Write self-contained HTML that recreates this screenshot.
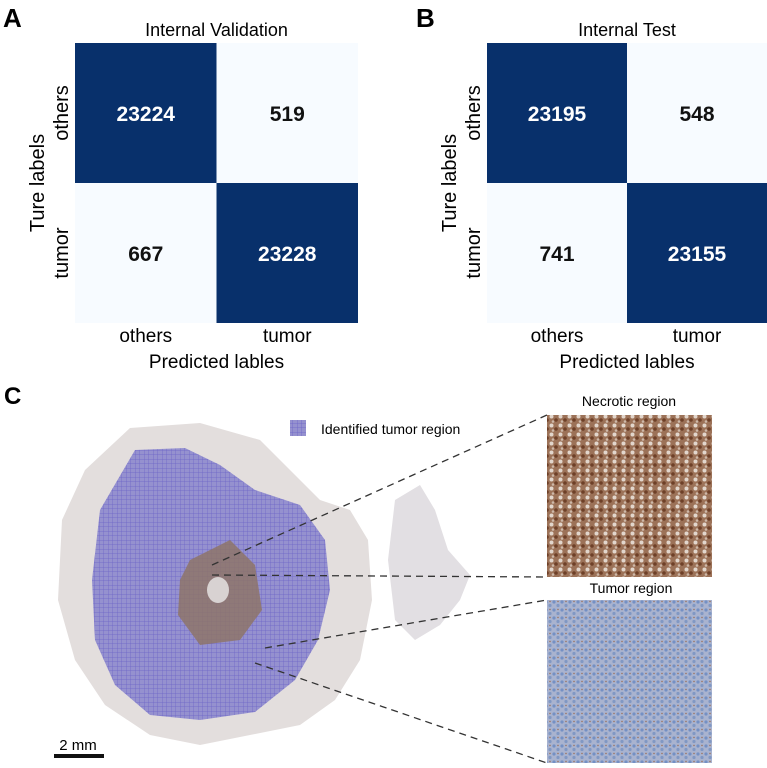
<!DOCTYPE html>
<html><head><meta charset="utf-8"><style>
body{margin:0;background:#fff;width:767px;height:768px;overflow:hidden;font-family:"Liberation Sans",sans-serif}
svg{position:absolute;left:0;top:0}
</style></head><body>
<svg width="767" height="768" font-family="Liberation Sans, sans-serif">
<defs>
<pattern id="grid" width="4.5" height="4.5" patternUnits="userSpaceOnUse"><rect width="4.5" height="4.5" fill="#9591cf"/><path d="M0 0H4.5M0 0V4.5" stroke="#6a62c8" stroke-width="0.7"/></pattern>
<pattern id="nec" width="9" height="9" patternUnits="userSpaceOnUse"><rect width="9" height="9" fill="#9c7258"/><circle cx="2.5" cy="2.5" r="2" fill="#e2d6cc"/><circle cx="7" cy="6" r="1.8" fill="#6e4028"/><circle cx="4" cy="7.5" r="1.3" fill="#cdb8a8"/></pattern>
<pattern id="tum" width="8" height="8" patternUnits="userSpaceOnUse"><rect width="8" height="8" fill="#a9b3cf"/><circle cx="2" cy="2" r="1.6" fill="#7490c4"/><circle cx="6" cy="5.5" r="1.6" fill="#8098c4"/><circle cx="6" cy="1.5" r="0.7" fill="#9a6a4e"/></pattern>
</defs>
<g id="charts"></g>
<g>
<text x="4" y="404" font-size="24" font-weight="bold">C</text>
<path d="M130 428 L200 423 L260 440 L295 475 L320 500 L350 510 L368 540 L372 600 L360 660 L335 700 L300 725 L250 735 L200 745 L150 735 L105 705 L75 660 L58 600 L62 520 L85 470 Z" fill="#e3dedd"/>
<path d="M395 500 L420 485 L435 510 L448 550 L470 575 L460 600 L440 625 L415 640 L395 620 L388 560 Z" fill="#e2dfe3"/>
<path d="M135 450 L185 448 L220 465 L255 490 L300 505 L325 540 L330 590 L318 640 L295 680 L255 712 L200 720 L150 715 L115 685 L95 640 L92 580 L100 510 Z" fill="url(#grid)"/>
<path d="M190 560 L230 540 L255 565 L262 610 L240 640 L200 645 L178 615 L180 580 Z" fill="#8e7468" opacity="0.85"/>
<ellipse cx="218" cy="590" rx="11" ry="13" fill="#d8d2d2"/>
<g>
<rect x="290" y="420" width="16" height="16" fill="url(#grid)"/>
<text x="321" y="434" font-size="14">Identified tumor region</text>
</g>
<text x="629" y="406" font-size="14" text-anchor="middle">Necrotic region</text>
<rect x="547" y="415" width="165" height="162" fill="url(#nec)"/>
<text x="631" y="593" font-size="14" text-anchor="middle">Tumor region</text>
<rect x="547" y="600" width="165" height="163" fill="url(#tum)"/>
<g stroke="#333" stroke-width="1.3" stroke-dasharray="7,5" fill="none">
<line x1="212" y1="565" x2="547" y2="415"/><line x1="212" y1="575" x2="547" y2="577"/>
<line x1="265" y1="648" x2="547" y2="600"/><line x1="255" y1="663" x2="547" y2="763"/>
</g>
<text x="78" y="750" font-size="15" text-anchor="middle">2 mm</text>
<rect x="54" y="754" width="50" height="4" fill="#111"/>
</g>
</svg>
<script>
const classes=["others","tumor"];
const valA=[[23224,519],[667,23228]];
const valB=[[23195,548],[741,23155]];
const titles=["Internal Validation","Internal Test"];
const NS="http://www.w3.org/2000/svg";
const g=document.getElementById('charts');
function mk(t,a,p){const e=document.createElementNS(NS,t);for(const k in a)e.setAttribute(k,a[k]);(p||g).appendChild(e);return e;}
function panel(vals,x0,x1,title,lab,lx){
 const y0=43,y1=323,cw=(x1-x0)/2,ch=(y1-y0)/2;
 const max=Math.max(...vals.flat()),min=Math.min(...vals.flat());
 const pg=mk('g',{});
 
 
 const L=mk('text',{x:lx,y:27,'font-size':26,'font-weight':'bold'},pg);L.textContent=lab;
 
 const T=mk('text',{x:(x0+x1)/2,y:36,'font-size':18,'text-anchor':'middle'},pg);T.textContent=title;
 
 for(let r=0;r<2;r++)for(let c=0;c<2;c++){
  const v=vals[r][c],hi=(v-min)/(max-min)>0.5;
  const R=mk('rect',{x:x0+c*cw,y:y0+r*ch,width:cw,height:ch,fill:hi?'#08306b':'#f7fbff'},pg);
  
  const t=mk('text',{x:x0+c*cw+cw/2,y:y0+r*ch+ch/2+8,'font-size':21,'font-weight':'bold','text-anchor':'middle',fill:hi?'#fff':'#111'},pg);t.textContent=v;
  
 }
 classes.forEach((c,i)=>{
  const t=mk('text',{x:x0+i*cw+cw/2,y:342,'font-size':19,'text-anchor':'middle'},pg);t.textContent=c;
  
  const yc=y0+i*ch+ch/2;
  const u=mk('text',{x:0,y:0,'font-size':20,'text-anchor':'middle',transform:`translate(${x0-7},${yc}) rotate(-90)`},pg);u.textContent=c;
  
 });
 const xl=mk('text',{x:(x0+x1)/2,y:368,'font-size':19,'text-anchor':'middle'},pg);xl.textContent='Predicted lables';
 
 const yl=mk('text',{x:0,y:0,'font-size':20,'text-anchor':'middle',transform:`translate(${x0-31},${(y0+y1)/2}) rotate(-90)`},pg);yl.textContent='Ture labels';
 
}
panel(valA,75,358,titles[0],'A',3);
panel(valB,487,767,titles[1],'B',416);
</script>
</body></html>
